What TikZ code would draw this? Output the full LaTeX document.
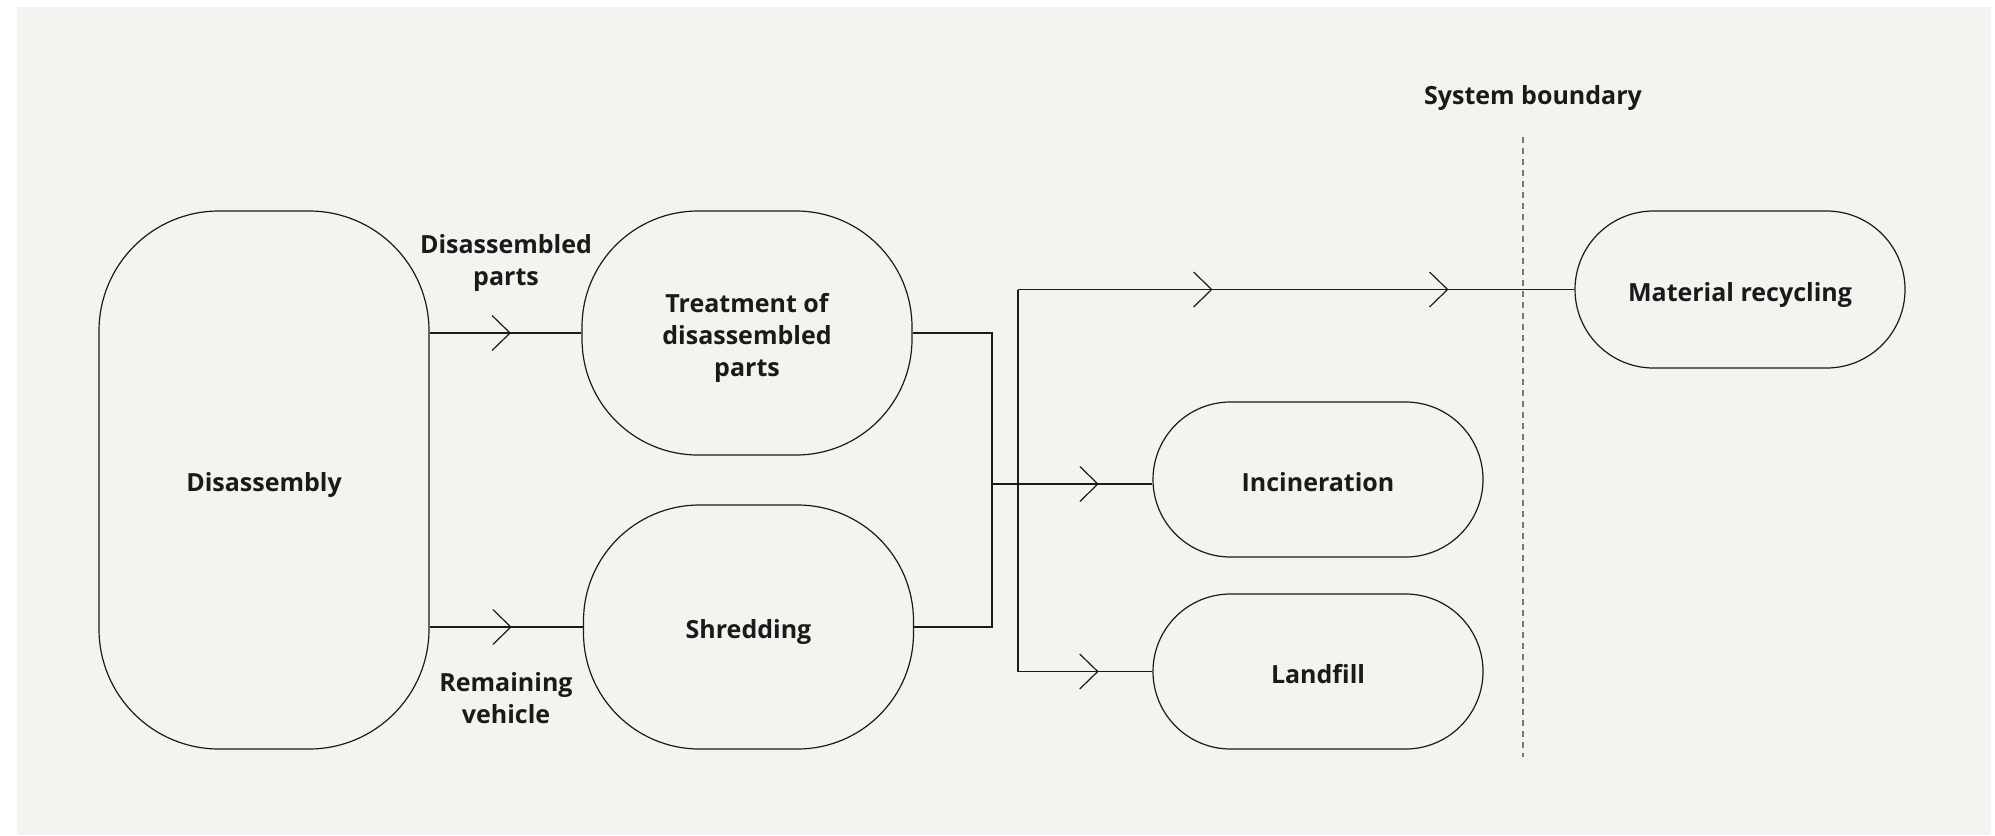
\documentclass[tikz,border=0pt]{standalone}
\usepackage{fontspec}
\setmainfont{Open Sans}
\usetikzlibrary{decorations.markings}
\definecolor{bgc}{HTML}{F4F3EF}
\definecolor{ink}{HTML}{1A1A1A}
\definecolor{dashc}{HTML}{777777}
\tikzset{
  proc/.style={draw=ink, line width=0.6pt, rectangle, inner sep=0pt, align=center,
    font=\fontsize{12.5}{16}\selectfont\bfseries, text=ink, text height=11.5pt, text depth=0pt},
  lbl/.style={align=center, inner sep=0pt, font=\fontsize{12.5}{16}\selectfont\bfseries, text=ink},
  onelbl/.style={lbl, text height=9pt, text depth=0pt},
  flow/.style={draw=ink, line width=0.6pt},
  chev/.style={postaction={decorate,decoration={markings,
    mark=at position #1 with {\draw[ink, line width=0.6pt, line join=miter] (-9pt,8.75pt) -- (0pt,0pt) -- (-9pt,-8.75pt);}}}}
}
\begin{document}
\begin{tikzpicture}[x=0.5pt,y=-0.5pt]
\useasboundingbox (0,0) rectangle (1995,835);
\fill[white] (0,0) rectangle (1995,835);
\fill[bgc] (17,7) rectangle (1991,835);

% nodes
\node[proc, minimum width=165pt, minimum height=269pt, rounded corners=60pt] (dis) at (264,480) {Disassembly};
\node[proc, minimum width=165pt, minimum height=122pt, rounded corners=58pt] (treat) at (747,333) {};
\node[lbl] (treattxt) at ([yshift=-2.5pt]treat.center) {Treatment of\\disassembled\\parts};
\node[proc, minimum width=165pt, minimum height=122pt, rounded corners=58pt] (shred) at (748.5,627) {Shredding};
\node[proc, minimum width=165pt, minimum height=77.5pt, rounded corners=38.75pt] (incin) at (1318,479.5) {Incineration};
\node[proc, minimum width=165pt, minimum height=77.5pt, rounded corners=38.75pt] (land) at (1318,671.5) {Landfill};
\node[proc, minimum width=165pt, minimum height=78.5pt, rounded corners=39.25pt] (mat) at (1740,289.5) {Material recycling};

% labels
\node[lbl] (lparts) at (506,263) {Disassembled\\parts};
\node[lbl] (lveh) at (506,698) {Remaining\\vehicle};
\node[onelbl] (lsys) at (1533,95) {System boundary};

% system boundary
\coordinate (sbt) at (1523,137);
\coordinate (sbb) at (1523,757);
\draw[dashc, line width=0.6pt, dash pattern=on 3pt off 2.5pt] (sbt) -- (sbb);

% junction coordinates
\coordinate (j1) at (992,333);
\coordinate (j2) at (992,627);
\coordinate (jm) at (992,484);
\coordinate (bt) at (1018,289.5);
\coordinate (bb) at (1018,671.5);

% connectors
\draw[flow, chev=0.53] (dis.east |- treat.west) -- (treat.west);
\draw[flow, chev=0.53] (dis.east |- shred.west) -- (shred.west);
\draw[flow] (treat.east) -- (j1) -- (j2) -- (shred.east);
\draw[flow, chev=0.66] (jm) -- (incin.west |- jm);
\draw[flow] (bt) -- (bb);
\draw[flow, chev=0.348, chev=0.772] (bt) -- (mat.west);
\draw[flow, chev=0.593] (bb) -- (land.west);
\end{tikzpicture}
\end{document}
